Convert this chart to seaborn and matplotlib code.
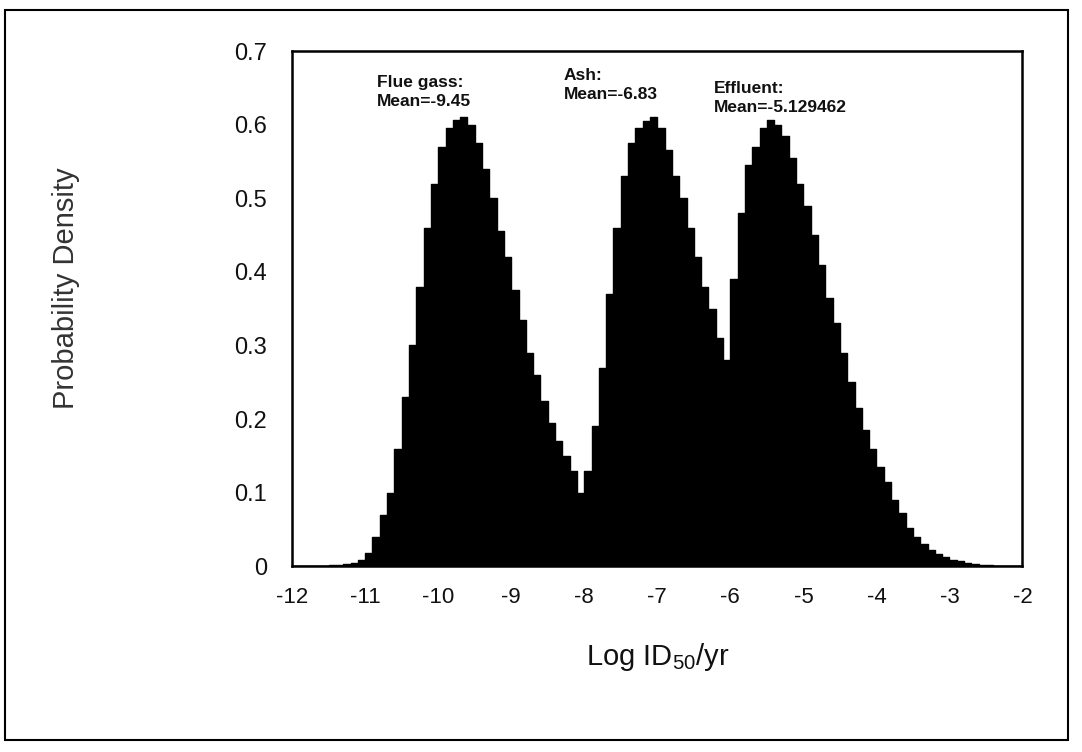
import numpy as np
import pandas as pd
import matplotlib
matplotlib.use('Agg')
import matplotlib.pyplot as plt
import seaborn as sns
from matplotlib.patches import Rectangle

# bin left edges of the histogram (width 0.1) and density
bin_width = 0.1
bin_left = np.round(np.arange(-12.0, -2.0, bin_width), 2)
density = [
    0.001, 0.001, 0.001, 0.001, 0.001, 0.002, 0.002, 0.003, 0.004, 0.008,   # -12.0 .. -11.1
    0.018, 0.040, 0.070, 0.100, 0.160, 0.230, 0.300, 0.380, 0.460, 0.520,   # -11.0 .. -10.1
    0.570, 0.595, 0.607, 0.610, 0.600, 0.575, 0.540, 0.500, 0.455, 0.420,   # -10.0 .. -9.1
    0.375, 0.335, 0.290, 0.260, 0.225, 0.195, 0.170, 0.150, 0.130, 0.100,   # -9.0 .. -8.1
    0.130, 0.190, 0.270, 0.370, 0.460, 0.530, 0.575, 0.595, 0.605, 0.610,   # -8.0 .. -7.1
    0.595, 0.565, 0.530, 0.500, 0.460, 0.420, 0.380, 0.350, 0.310, 0.280,   # -7.0 .. -6.1
    0.390, 0.480, 0.545, 0.570, 0.595, 0.607, 0.600, 0.585, 0.555, 0.520,   # -6.0 .. -5.1
    0.490, 0.450, 0.410, 0.365, 0.330, 0.290, 0.250, 0.215, 0.185, 0.160,   # -5.0 .. -4.1
    0.135, 0.115, 0.090, 0.072, 0.052, 0.040, 0.030, 0.022, 0.017, 0.012,   # -4.0 .. -3.1
    0.009, 0.007, 0.005, 0.003, 0.002, 0.002, 0.001, 0.001, 0.001, 0.001,   # -3.0 .. -2.1
]

# annotations: label, mean text, anchor x, anchor y
ann_labels = ['Flue gass:', 'Ash:', 'Effluent:']
ann_means = ['Mean=-9.45', 'Mean=-6.83', 'Mean=-5.129462']
ann_x = [-10.84, -8.28, -6.22]
ann_y = [0.668, 0.677, 0.660]

x_ticks = list(range(-12, -1))
y_ticks = [0, 0.1, 0.2, 0.3, 0.4, 0.5, 0.6, 0.7]
y_tick_labels = ['0', '0.1', '0.2', '0.3', '0.4', '0.5', '0.6', '0.7']

df = pd.DataFrame({'x': bin_left + bin_width / 2, 'density': density})

sns.set_style('white')
plt.rcParams['font.family'] = ['Liberation Sans', 'DejaVu Sans']
plt.rcParams['mathtext.fontset'] = 'custom'
plt.rcParams['mathtext.rm'] = 'Liberation Sans'

fig = plt.figure(figsize=(10.82, 7.52), dpi=100)
ax = fig.add_axes([0.270, 0.247, 0.675, 0.685])

sns.histplot(data=df, x='x', weights='density', binwidth=bin_width, binrange=(-12, -2),
             element='step', fill=True, color='black', alpha=1, linewidth=1, ax=ax)

ax.set_xlim(-12, -2)
ax.set_ylim(0, 0.7)
ax.set_xticks(x_ticks)
ax.set_xticklabels([str(t) for t in x_ticks])
ax.set_yticks(y_ticks)
ax.set_yticklabels(y_tick_labels)
ax.tick_params(axis='x', labelsize=16, colors='#111111')
ax.tick_params(axis='y', labelsize=17, colors='#111111')
ax.tick_params(axis='y', direction='inout', length=8, width=1.2, pad=14)
ax.tick_params(axis='x', direction='out', length=5, width=1.2, pad=10)

for s in ax.spines.values():
    s.set_visible(True)
    s.set_color('black')
    s.set_linewidth(1.8)

ax.set_xlabel('Log ID$\\mathregular{_{50}}$/yr', fontsize=21, color='#111111')
ax.xaxis.set_label_coords(0.5, -0.145)
ax.set_ylabel('Probability Density', fontsize=21, color='#333333')
ax.yaxis.set_label_coords(-0.29, 0.54)

for lab, mean, x, y in zip(ann_labels, ann_means, ann_x, ann_y):
    ax.text(x, y, lab + '\n' + mean, fontsize=12.5, fontweight='bold', va='top',
            ha='left', color='#111111', linespacing=1.35)

# outer border of the scanned page
fig.patches.append(Rectangle((0.005, 0.016), 0.982, 0.971, transform=fig.transFigure,
                             fill=False, edgecolor='black', linewidth=1.5))

fig.savefig('out.png', dpi=100, facecolor='white')
